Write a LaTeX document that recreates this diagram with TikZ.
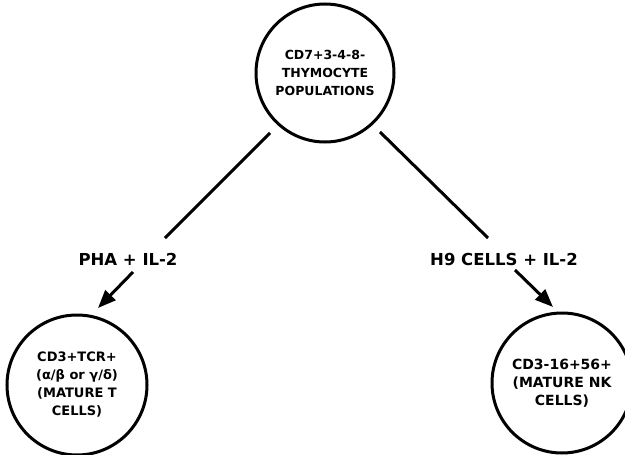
\documentclass[tikz,border=0pt]{standalone}
\usepackage{fontspec}
\setmainfont{DejaVu Sans}
\usetikzlibrary{arrows.meta}
\begin{document}
\begin{tikzpicture}[x=1pt,y=-1pt,
  cell/.style={circle,draw,line width=3pt,inner sep=0pt,align=center,font=\fontsize{13}{18}\selectfont\bfseries},
  cond/.style={inner sep=0pt,font=\fontsize{16.5}{20}\selectfont\bfseries},
  link/.style={line width=3pt},
  arr/.style={line width=3pt,-{Triangle[length=18pt,width=14pt]}}]
\useasboundingbox (0,0) rectangle (625,455);
\node[cell,minimum size=138pt,font=\fontsize{12.5}{18}\selectfont\bfseries] (top) at (325,73) {CD7+3-4-8-\\THYMOCYTE\\POPULATIONS};
\node[cell,minimum size=140pt] (tcell) at (77,385) {CD3+TCR+\\(α/β or γ/δ)\\(MATURE T\\CELLS)};
\node[cell,minimum size=140pt,font=\fontsize{14}{18}\selectfont\bfseries] (nk) at (562,383) {CD3-16+56+\\(MATURE NK\\CELLS)};
\node[cond] (pha) at (128,259) {PHA + IL-2};
\node[cond] (h9) at (504,259) {H9 CELLS + IL-2};
\coordinate (ls) at (270,133);
\coordinate (le) at (165,238);
\coordinate (rs) at (380,132);
\coordinate (re) at (488,238);
\coordinate (las) at (133,272);
\coordinate (lat) at (98,308);
\coordinate (ras) at (515,270);
\coordinate (rat) at (553,307);
\draw[link] (ls) -- (le);
\draw[link] (rs) -- (re);
\draw[arr] (las) -- (lat);
\draw[arr] (ras) -- (rat);
\end{tikzpicture}
\end{document}
